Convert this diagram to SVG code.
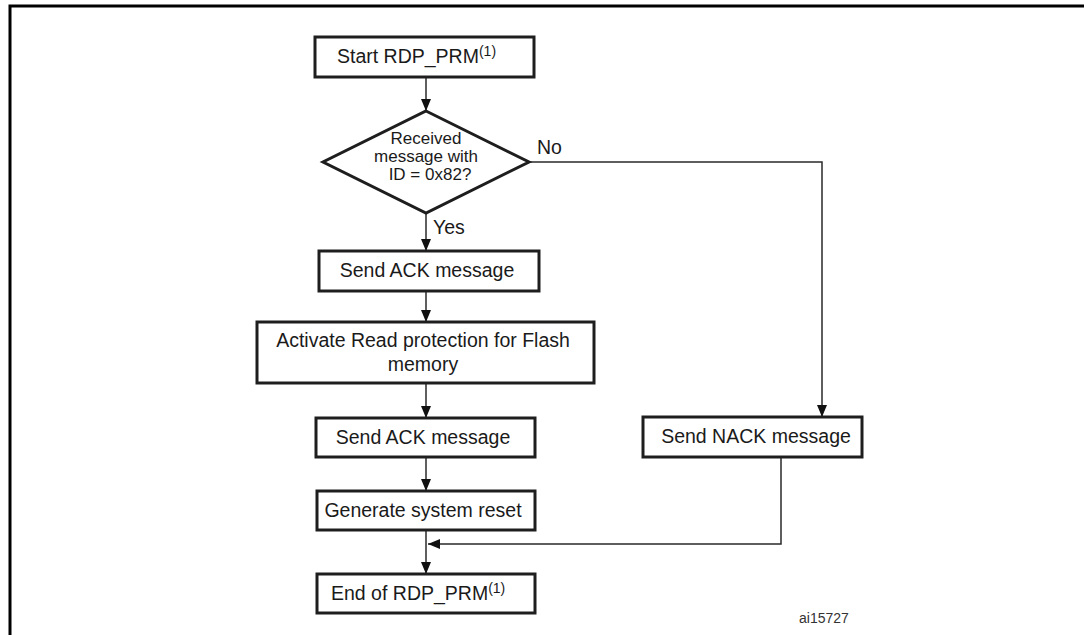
<svg xmlns="http://www.w3.org/2000/svg" width="1084" height="635" viewBox="0 0 1084 635">
  <style>
    .box { fill: #ffffff; stroke: #1e1e1e; stroke-width: 3; }
    .lbl { font-family: "Liberation Sans", Arial, sans-serif; font-size: 19.5px; fill: #1a1a1a; }
    .dec { font-size: 17px; }
    .mid { text-anchor: middle; }
    .sup { font-size: 14px; }
    .edge { fill: none; stroke: #2a2a2a; stroke-width: 1.5; }
    .note { font-family: "Liberation Sans", Arial, sans-serif; font-size: 14px; fill: #333333; }
  </style>
  <defs>
    <marker id="arrow" viewBox="0 0 12 10" refX="12" refY="5" markerWidth="12" markerHeight="10" markerUnits="userSpaceOnUse" orient="auto">
      <path d="M0,0 L12,5 L0,10 Z" fill="#111111"/>
    </marker>
  </defs>

  <rect width="1084" height="635" fill="#ffffff"/>

  <!-- figure frame (left and top edges) -->
  <path d="M10,635 L10,6 L1084,6" fill="none" stroke="#000000" stroke-width="3"/>

  <!-- connectors -->
  <g id="connectors">
    <path class="edge" d="M426,77 L426,111" marker-end="url(#arrow)"/>
    <path class="edge" d="M426,213 L426,251" marker-end="url(#arrow)"/>
    <path class="edge" d="M426,291 L426,322" marker-end="url(#arrow)"/>
    <path class="edge" d="M426,383 L426,418" marker-end="url(#arrow)"/>
    <path class="edge" d="M426,457 L426,491" marker-end="url(#arrow)"/>
    <path class="edge" d="M426,530 L426,574" marker-end="url(#arrow)"/>
    <path class="edge" d="M529,162 L822,162 L822,417" marker-end="url(#arrow)"/>
    <path class="edge" d="M781,457 L781,544 L428,544" marker-end="url(#arrow)"/>
    <text class="lbl" x="433" y="234">Yes</text>
    <text class="lbl" x="537" y="154">No</text>
  </g>

  <g id="start">
    <rect class="box" x="315" y="37" width="219" height="40"/>
    <text class="lbl" x="337" y="63">Start RDP_PRM<tspan class="sup" dy="-7">(1)</tspan></text>
  </g>

  <g id="decision">
    <polygon class="box" points="426,111 529,162 426,213 323,162"/>
    <text class="lbl dec mid" x="426" y="144">Received</text>
    <text class="lbl dec mid" x="426" y="162">message with</text>
    <text class="lbl dec mid" x="430" y="180">ID = 0x82?</text>
  </g>

  <g id="send-ack-1">
    <rect class="box" x="319" y="251" width="220" height="40"/>
    <text class="lbl mid" x="427" y="277">Send ACK message</text>
  </g>

  <g id="activate-rdp">
    <rect class="box" x="257" y="322" width="337" height="61"/>
    <text class="lbl mid" x="423" y="347">Activate Read protection for Flash</text>
    <text class="lbl mid" x="423" y="371">memory</text>
  </g>

  <g id="send-ack-2">
    <rect class="box" x="316" y="418" width="219" height="39"/>
    <text class="lbl mid" x="423" y="444">Send ACK message</text>
  </g>

  <g id="system-reset">
    <rect class="box" x="317" y="491" width="218" height="39"/>
    <text class="lbl mid" x="423" y="517">Generate system reset</text>
  </g>

  <g id="end">
    <rect class="box" x="317" y="574" width="218" height="39"/>
    <text class="lbl" x="331" y="600">End of RDP_PRM<tspan class="sup" dy="-7">(1)</tspan></text>
  </g>

  <g id="send-nack">
    <rect class="box" x="643" y="417" width="219" height="40"/>
    <text class="lbl mid" x="756" y="443">Send NACK message</text>
  </g>

  <text class="note" x="799" y="623">ai15727</text>
</svg>
